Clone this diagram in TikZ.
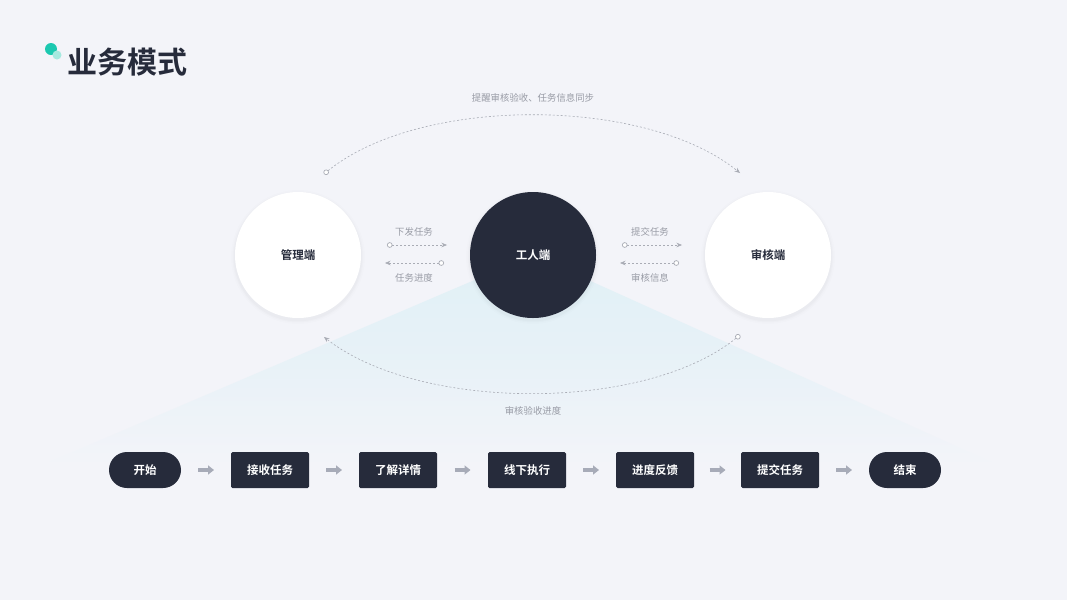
\documentclass[tikz,border=0pt]{standalone}
\usepackage{fontspec}
\setmainfont{Noto Sans CJK SC}[BoldFont={Noto Sans CJK SC Bold}]
\usetikzlibrary{arrows.meta,shadings}
\definecolor{bg}{HTML}{F3F4F9}
\definecolor{dark}{HTML}{262B3B}
\definecolor{lbl}{HTML}{999CA6}
\definecolor{dline}{HTML}{A9ACB5}
\definecolor{teal}{HTML}{1BC8B0}
\definecolor{lteal}{HTML}{A6E9DF}
\definecolor{fan}{HTML}{E0F0F6}
\definecolor{flowarrow}{HTML}{A7ABB8}
\tikzset{
  circw/.style={circle,minimum size=126pt,inner sep=0pt,fill=white,font=\bfseries\fontsize{11.5}{13}\selectfont,text=dark},
  circd/.style={circle,minimum size=126pt,inner sep=0pt,fill=dark,font=\bfseries\fontsize{11.5}{13}\selectfont,text=white},
  lab/.style={font=\fontsize{9.4}{11}\selectfont,text=lbl,inner sep=1pt},
  flowbox/.style={rectangle,rounded corners=1.5pt,fill=dark,minimum width=78pt,minimum height=36pt,inner sep=0pt,font=\bfseries\fontsize{11.5}{13}\selectfont,text=white},
  flowpill/.style={rectangle,rounded corners=18pt,fill=dark,minimum width=72pt,minimum height=36pt,inner sep=0pt,font=\bfseries\fontsize{11.5}{13}\selectfont,text=white},
  dline/.style={draw=dline,line width=0.6pt,dash pattern=on 2pt off 2pt},
  dotstart/.style={{Circle[open,length=5.5pt,width=5.5pt,fill=white,line width=0.7pt]}-{Stealth[length=5.5pt,width=4.5pt]}},
  farrow/.style={draw=flowarrow,line width=3.6pt,-{Triangle[length=6pt,width=9pt]}},
}
\begin{document}
\begin{tikzpicture}[x=1pt,y=-1pt]
\fill[bg] (0,0) rectangle (1067,600);
\useasboundingbox (0,0) rectangle (1067,600);
% fan
\shade[top color=fan,bottom color=bg,middle color=fan!60!bg] (533,255) -- (40,466) -- (1000,466) -- cycle;
% title
\fill[teal] (51,49) circle (6);
\fill[lteal] (57,55) circle (4.5);
\node[anchor=west,font=\bfseries\fontsize{30}{33}\selectfont,text=dark,inner sep=0pt] (title) at (67,62) {业务模式};
% shadows
\foreach \cx in {298,533,768}{
  \foreach \r/\o in {67/0.008,65.5/0.012,64.3/0.016}{
    \fill[black,opacity=\o] (\cx,257) circle (\r);
  }
}
% circles
\node[circw] (mgr) at (298,255) {管理端};
\node[circd] (wrk) at (533,255) {工人端};
\node[circw] (aud) at (768,255) {审核端};
% arc endpoints
\coordinate (ta) at (324,174);
\coordinate (tb) at (740,173);
\coordinate (ba) at (740,335);
\coordinate (bb) at (324,337);
\draw[dline,dotstart] (ta) .. controls (420,96) and (645,96) .. (tb);
\draw[dline,dotstart] (ba) .. controls (645,412) and (420,412) .. (bb);
\node[lab] (toplab) at (533,98) {提醒审核验收、任务信息同步};
\node[lab] (botlab) at (533,411) {审核验收进度};
% middle arrows
\coordinate (l1a) at (387,245); \coordinate (l1b) at (447,245);
\coordinate (l2a) at (444,263); \coordinate (l2b) at (385,263);
\coordinate (r1a) at (622,245); \coordinate (r1b) at (682,245);
\coordinate (r2a) at (679,263); \coordinate (r2b) at (620,263);
\draw[dline,dotstart] (l1a) -- (l1b);
\draw[dline,dotstart] (l2a) -- (l2b);
\draw[dline,dotstart] (r1a) -- (r1b);
\draw[dline,dotstart] (r2a) -- (r2b);
\node[lab] (ll1) at (414,232) {下发任务};
\node[lab] (ll2) at (414,278) {任务进度};
\node[lab] (rl1) at (650,232) {提交任务};
\node[lab] (rl2) at (650,278) {审核信息};
% flow
\node[flowpill] (f0) at (145,470) {开始};
\node[flowbox] (f1) at (270,470) {接收任务};
\node[flowbox] (f2) at (398,470) {了解详情};
\node[flowbox] (f3) at (527,470) {线下执行};
\node[flowbox] (f4) at (655,470) {进度反馈};
\node[flowbox] (f5) at (780,470) {提交任务};
\node[flowpill] (f6) at (905,470) {结束};
\foreach \a/\b in {f0/f1,f1/f2,f2/f3,f3/f4,f4/f5,f5/f6}{
  \path (\a.east) -- (\b.west) coordinate[pos=0.5] (m\a);
  \draw[farrow] ([xshift=-8pt]m\a) -- ([xshift=8pt]m\a);
}
\end{tikzpicture}
\end{document}
